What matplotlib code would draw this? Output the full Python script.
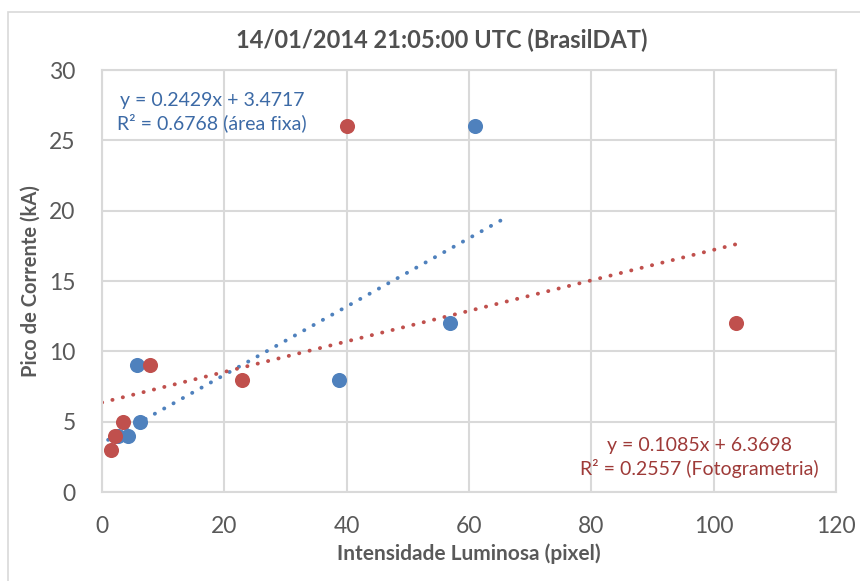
import numpy as np
import matplotlib.pyplot as plt
from matplotlib.patches import Rectangle

plt.rcParams['font.family'] = ['Lato', 'DejaVu Sans']

# Área fixa (azul)
x_area = [60.9, 56.9, 38.7, 5.7, 6.2, 4.2, 2.6]
y_area = [26, 12, 8, 9, 5, 4, 4]
# Fotogrametria (vermelho)
x_foto = [40.0, 103.6, 22.9, 7.8, 3.5, 2.1, 1.4]
y_foto = [26, 12, 8, 9, 5, 4, 3]

# coeficientes das linhas de tendência
coef_area = (0.2429, 3.4717)
coef_foto = (0.1085, 6.3698)
range_area = (1.0, 66.0)
range_foto = (0.0, 103.6)

azul = '#4F81BD'
verm = '#C0504D'
cinza = '#595959'
grade = '#D9D9D9'

fig = plt.figure(figsize=(8.6, 5.81), dpi=100)
ax = fig.add_axes([0.1186, 0.153, 0.8535, 0.7265])

# moldura do gráfico
fig.patches.append(Rectangle((8 / 860, -0.05), 1.0, 1.05 - 12 / 581, transform=fig.transFigure,
                             fill=False, edgecolor=grade, linewidth=1.2))

xa = np.linspace(*range_area, 200)
xf = np.linspace(*range_foto, 200)
ax.plot(xa, coef_area[0] * xa + coef_area[1], color=azul, lw=2.8,
        linestyle=(0, (0.05, 2.7)), dash_capstyle='round', zorder=2)
ax.plot(xf, coef_foto[0] * xf + coef_foto[1], color=verm, lw=2.8,
        linestyle=(0, (0.05, 2.7)), dash_capstyle='round', zorder=2)

ax.scatter(x_area, y_area, s=118, color=azul, zorder=3, linewidths=0)
ax.scatter(x_foto, y_foto, s=118, color=verm, zorder=3, linewidths=0)

ax.set_xlim(0, 120)
ax.set_ylim(0, 30)
ax.set_xticks(range(0, 121, 20))
ax.set_yticks(range(0, 31, 5))
ax.grid(True, color=grade, linewidth=1.5, zorder=0)
ax.set_axisbelow(True)
for s in ax.spines.values():
    s.set_color(grade)
    s.set_linewidth(1.5)
ax.tick_params(length=0, labelsize=16.5, colors=cinza)
ax.tick_params(axis='x', pad=17)
ax.tick_params(axis='y', pad=19)

fig.text(442 / 860, 1 - 40 / 581, '14/01/2014 21:05:00 UTC (BrasilDAT)', fontsize=17,
         fontweight='bold', color='#505050', ha='center', va='center')
ax.set_xlabel('Intensidade Luminosa (pixel)', fontsize=15, fontweight='bold', color=cinza, labelpad=5)
ax.set_ylabel('Pico de Corrente (kA)', fontsize=14.5, fontweight='bold', color=cinza, labelpad=6)

ax.text(18.0, 27.0, 'y = 0.2429x + 3.4717\nR² = 0.6768 (área fixa)', ha='center', va='center',
        fontsize=14, color='#3C6AA6', linespacing=1.3)
ax.text(97.7, 2.45, 'y = 0.1085x + 6.3698\nR² = 0.2557 (Fotogrametria)', ha='center', va='center',
        fontsize=14, color='#9E3A38', linespacing=1.3)

fig.savefig('out.png', dpi=100)
